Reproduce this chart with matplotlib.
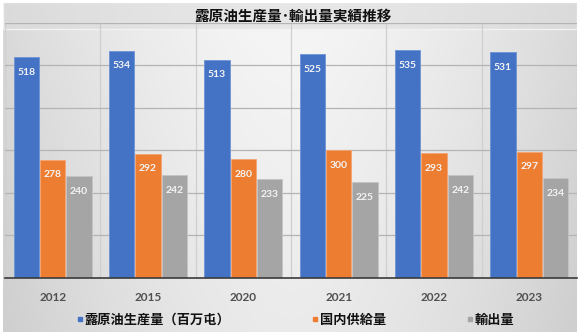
import numpy as np
import matplotlib
matplotlib.use("Agg")
import matplotlib.pyplot as plt
from matplotlib.lines import Line2D
from matplotlib.patches import Rectangle

plt.rcParams['font.family'] = ['Noto Sans CJK JP', 'DejaVu Sans']

# Data
years = ["2012", "2015", "2020", "2021", "2022", "2023"]
production = [518, 534, 513, 525, 535, 531]
domestic = [278, 292, 280, 300, 293, 297]
exports = [240, 242, 233, 225, 242, 234]

series_names = ["露原油生産量（百万屯）", "国内供給量", "輸出量"]
title = "露原油生産量･輸出量実績推移"

colors = ["#4472C4", "#ED7D31", "#A5A5A5"]
edge_colors = ["#6E93D6", "#F5A470", "#C4C4C4"]

W, H = 580, 334
fig = plt.figure(figsize=(W / 100, H / 100), dpi=100)
fig.patch.set_facecolor("white")

# Soft gray gradient background behind the whole chart
bg = fig.add_axes([3 / W, 2 / H, 574 / W, 329 / H], zorder=0)
xx = np.linspace(-1, 1, 400)
yy = np.linspace(0, 1, 200)
X, Y = np.meshgrid(xx, yy)
val = 0.965 - 0.11 * np.abs(X) ** 1.6 - 0.045 * Y
bg.imshow(np.dstack([val, val, val]), aspect="auto", extent=[0, 1, 1, 0])
bg.set_xlim(0, 1)
bg.set_ylim(1, 0)
bg.axis("off")

# Legend band at the bottom
bg.add_patch(Rectangle((0.0, (305 - 2) / 329), 1.0, 27 / 329,
                       facecolor=(0.86, 0.86, 0.86, 0.55),
                       edgecolor=(0.95, 0.95, 0.95), lw=1.0,
                       transform=bg.transAxes, zorder=2))
bg.set_ylim(1, 0)

ax = fig.add_axes([5 / W, 1 - 278 / H, 572 / W, (278 - 22.5) / H], zorder=1)
ax.patch.set_alpha(0)

x = np.arange(len(years))
width = 0.265
offsets = [-0.275, 0.0, 0.275]
all_series = [production, domestic, exports]

for vals, off, c, ec in zip(all_series, offsets, colors, edge_colors):
    bars = ax.bar(x + off, vals, width, color=c, edgecolor=ec, lw=0.6, zorder=3)
    for b, v in zip(bars, vals):
        ax.annotate(str(v), (b.get_x() + b.get_width() / 2, v),
                    xytext=(0, -11), textcoords="offset points",
                    ha="center", va="center", fontsize=7.5,
                    color="#F4F4F4", family=["Lato", "DejaVu Sans"],
                    fontweight="bold", zorder=4)

ax.set_xlim(-0.5, len(years) - 0.5)
ax.set_ylim(0, 600)
ax.set_yticks(np.arange(100, 601, 100))
ax.set_yticklabels([])
ax.tick_params(axis="y", length=0)
ax.grid(axis="y", color="#B4B4B4", lw=0.9, zorder=1)

# Category separators
ax.set_xticks(np.arange(-0.5, len(years), 1.0), minor=True)
ax.grid(axis="x", which="minor", color="#CFCFCF", lw=0.9, zorder=1)
ax.set_xticks(x)
ax.set_xticklabels(years, family=["Lato", "DejaVu Sans"], fontweight="bold",
                   fontsize=8.5, color="#505050")
ax.tick_params(axis="x", which="both", length=0, pad=10)

for s in ["top", "left", "right"]:
    ax.spines[s].set_visible(False)
ax.spines["bottom"].set_color("#3A3A3A")
ax.spines["bottom"].set_linewidth(1.2)
ax.spines["bottom"].set_zorder(5)

fig.text(293 / W, 1 - 16 / H, title, ha="center", va="center",
         fontsize=10.5, fontweight="bold", color="#111111")

handles = [Line2D([], [], ls="none", marker="s", markersize=3.5,
                  markerfacecolor=c, markeredgecolor=c) for c in colors]
leg = fig.legend(handles, series_names, loc="center",
                 bbox_to_anchor=(296 / W, 1 - 320 / H), ncol=3,
                 frameon=False, handlelength=0.4, handletextpad=0.15,
                 columnspacing=6.2, prop={"size": 9.5, "weight": "bold"})
for t in leg.get_texts():
    t.set_color("#111111")

fig.savefig("out.png", dpi=100, facecolor=fig.get_facecolor())
